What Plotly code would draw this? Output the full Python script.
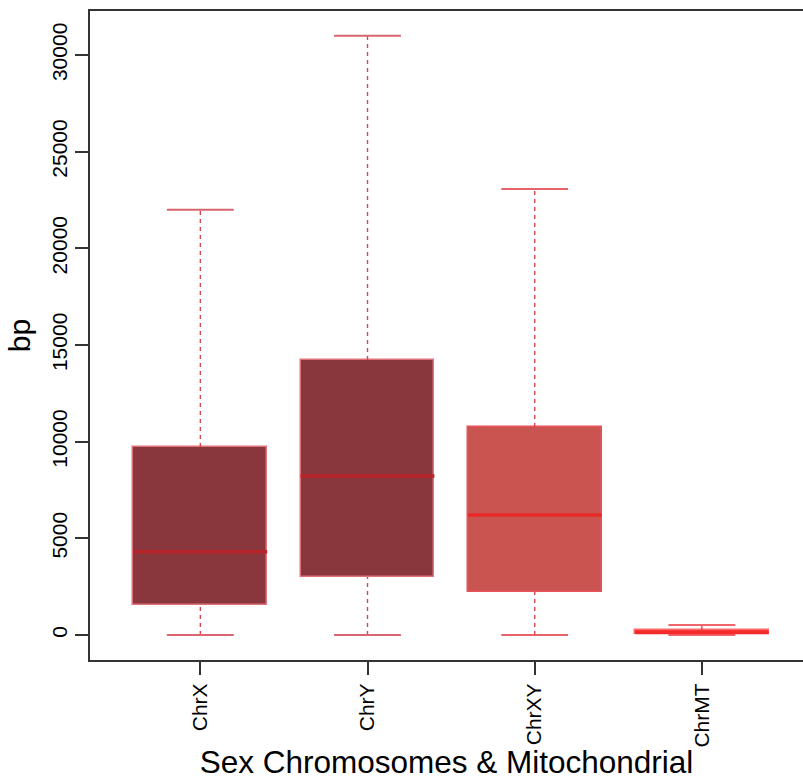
import plotly.graph_objects as go

categories = ["ChrX", "ChrY", "ChrXY", "ChrMT"]
lower_whisker = [0, 0, 0, 0]
q1 = [1550, 3000, 2230, 40]
median = [4300, 8230, 6210, 130]
q3 = [9730, 14230, 10760, 260]
upper_whisker = [22000, 31000, 23070, 520]
fill_colors = ["#89363C", "#89363C", "#C95450", "#F93B3B"]
border_colors = ["#E0727A", "#E0727A", "#E8525A", "#FF6A6A"]
median_colors = ["#B8232A", "#B8232A", "#EA2A2A", "#F52A2A"]
whisker_color = "#E0424C"
cap_colors = ["#D9666E", "#D9666E", "#E8646C", "#F0646C"]

y_ticks = [0, 5000, 10000, 15000, 20000, 25000, 30000]

positions = list(range(1, len(categories) + 1))
box_w = 0.8
cap_w = 0.4

fig = go.Figure()

# whiskers (dashed) and caps
for i, p in enumerate(positions):
    fig.add_trace(go.Scatter(x=[p, p], y=[q3[i], upper_whisker[i]], mode="lines",
                             line=dict(color=whisker_color, width=1.4, dash="4px,4px"),
                             hoverinfo="skip", showlegend=False))
    fig.add_trace(go.Scatter(x=[p, p], y=[lower_whisker[i], q1[i]], mode="lines",
                             line=dict(color=whisker_color, width=1.4, dash="4px,4px"),
                             hoverinfo="skip", showlegend=False))
    for v in (lower_whisker[i], upper_whisker[i]):
        fig.add_trace(go.Scatter(x=[p - cap_w / 2, p + cap_w / 2], y=[v, v], mode="lines",
                                 line=dict(color=cap_colors[i], width=2),
                                 hoverinfo="skip", showlegend=False))

# boxes
fig.add_trace(go.Bar(
    x=positions,
    y=[q3[i] - q1[i] for i in range(len(positions))],
    base=q1,
    width=box_w,
    marker=dict(color=fill_colors, line=dict(color=border_colors, width=1.5)),
    hoverinfo="skip", showlegend=False,
))

# medians
for i, p in enumerate(positions):
    fig.add_trace(go.Scatter(x=[p - box_w / 2, p + box_w / 2], y=[median[i], median[i]], mode="lines",
                             line=dict(color=median_colors[i], width=3.5),
                             hoverinfo="skip", showlegend=False))

font_family = "Liberation Sans, Arial, Helvetica, sans-serif"

fig.update_layout(
    width=803, height=780,
    margin=dict(l=90, r=0, t=11, b=120),
    paper_bgcolor="white", plot_bgcolor="white",
    font=dict(family=font_family, color="black", size=21),
    bargap=0,
    xaxis=dict(
        range=[0.34, 4.605],
        tickmode="array", tickvals=positions, ticktext=categories,
        tickangle=-90,
        ticks="outside", ticklen=13, tickwidth=1.5, tickcolor="#333333",
        showline=True, linecolor="#333333", linewidth=2, mirror=True,
        showgrid=False, zeroline=False,
        tickfont=dict(size=21),
        title=dict(text="Sex Chromosomes & Mitochondrial", font=dict(size=31.5), standoff=4),
    ),
    yaxis=dict(
        range=[-1293, 32276],
        tickmode="array", tickvals=y_ticks, ticktext=[str(v) for v in y_ticks],
        tickangle=-90,
        ticks="outside", ticklen=13, tickwidth=1.5, tickcolor="#333333",
        showline=True, linecolor="#333333", linewidth=2,
        showgrid=False, zeroline=False,
        tickfont=dict(size=21),
        title=dict(text="bp", font=dict(size=30), standoff=8),
    ),
)

fig.write_html("out.html")
